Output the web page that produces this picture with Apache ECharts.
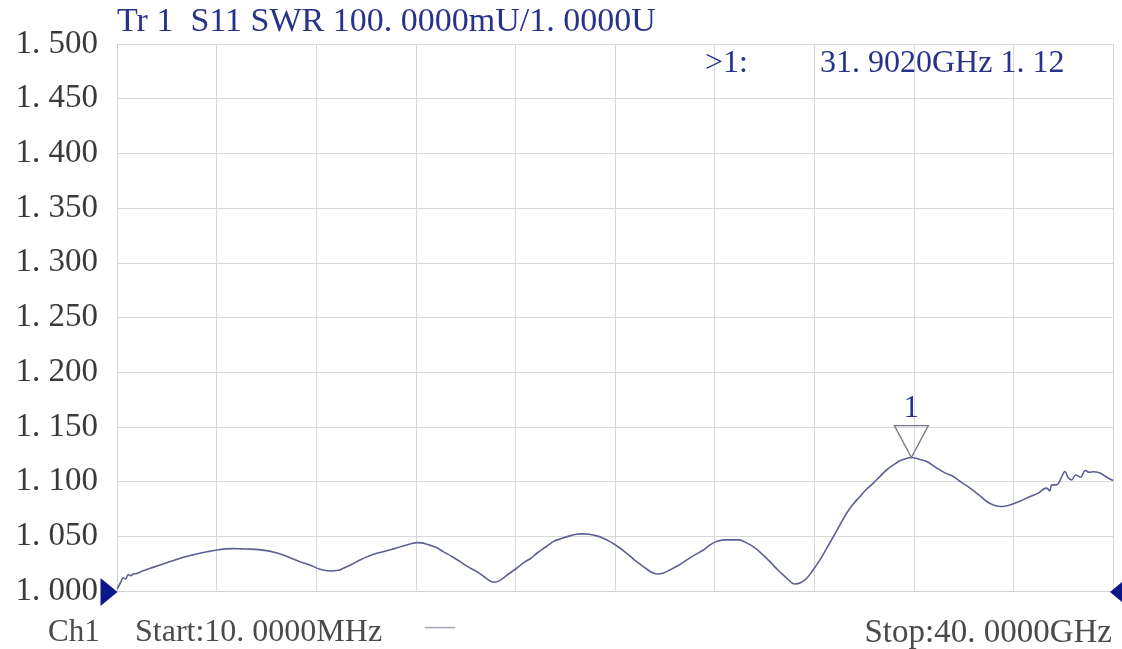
<!DOCTYPE html>
<html>
<head>
<meta charset="utf-8">
<script src="https://cdn.jsdelivr.net/npm/echarts@6/dist/echarts.min.js"></script>
<style>
html,body{margin:0;padding:0;background:#fff;}
#chart{width:1122px;height:649px;}
</style>
</head>
<body>
<div id="chart"></div>
<script>
// ---- data (frequency in GHz, SWR) ----
const freqGHz = [0.01,0.15,0.25,0.35,0.45,0.55,0.65,0.8,1.0,1.33,1.7,2.0,2.35,2.66,3.0,3.33,3.7,4.0,4.35,4.67,5.0,5.34,5.7,6.0,6.35,6.68,7.0,7.35,7.75,8.15,8.55,8.9,9.09,9.4,9.76,10.1,10.43,10.8,11.1,11.45,11.77,12.04,12.25,12.44,12.8,13.1,13.45,13.78,14.1,14.45,14.75,14.98,15.18,15.5,15.75,16.05,16.35,16.6,16.86,17.2,17.52,17.85,18.19,18.45,18.66,18.95,19.27,19.55,19.8,20.15,20.47,20.8,21.14,21.4,21.67,21.95,22.2,22.55,22.88,23.2,23.55,23.8,24.1,24.49,25.0,25.15,25.55,25.9,26.22,26.55,26.9,27.1,27.23,27.45,27.7,27.95,28.23,28.5,28.77,29.05,29.3,29.55,29.84,30.1,30.37,30.65,30.91,31.2,31.45,31.7,31.902,32.2,32.52,32.92,33.25,33.59,33.9,34.26,34.6,34.93,35.2,35.46,35.75,36.0,36.3,36.67,37.0,37.2,37.34,37.45,37.55,37.74,37.9,38.07,38.2,38.34,38.5,38.7,38.88,39.05,39.2,39.48,39.75,40.0];
const swr = [1.002,1.008,1.012,1.011,1.015,1.014,1.0156,1.016,1.018,1.0208,1.0235,1.0259,1.0285,1.0308,1.0328,1.0345,1.0362,1.0375,1.0385,1.0387,1.0385,1.0383,1.0378,1.0369,1.0352,1.033,1.030,1.0268,1.0238,1.0199,1.0183,1.019,1.0208,1.024,1.0284,1.0318,1.0345,1.0365,1.0385,1.041,1.043,1.0442,1.044,1.0427,1.040,1.036,1.0315,1.0268,1.022,1.0177,1.013,1.0092,1.008,1.0116,1.016,1.0208,1.0262,1.0295,1.0345,1.040,1.0451,1.048,1.0504,1.0518,1.0522,1.0518,1.0504,1.048,1.0451,1.040,1.0345,1.028,1.0223,1.018,1.0156,1.0165,1.0192,1.0235,1.0284,1.033,1.0375,1.042,1.0455,1.0467,1.0467,1.0455,1.0406,1.034,1.0268,1.019,1.0116,1.0075,1.0064,1.0075,1.0116,1.019,1.0284,1.039,1.0497,1.061,1.0711,1.079,1.0864,1.093,1.0986,1.105,1.1108,1.1155,1.119,1.1212,1.122,1.1205,1.1184,1.1124,1.108,1.1047,1.0995,1.094,1.088,1.0818,1.0785,1.0772,1.078,1.0797,1.0825,1.0864,1.0895,1.093,1.094,1.0915,1.097,1.097,1.1025,1.1092,1.1035,1.1016,1.106,1.104,1.1102,1.1085,1.109,1.1078,1.104,1.101];
const yTickLabels = ['1. 000','1. 050','1. 100','1. 150','1. 200','1. 250','1. 300','1. 350','1. 400','1. 450','1. 500'];
const markerFreq = [31.902];
const markerSwr = [1.122];
const refLevel = [1.0];

const navy = '#27338a';
const grayText = '#4a4a4a';
const font = 'Liberation Serif';

const chart = echarts.init(document.getElementById('chart'), null, {renderer:'canvas'});
const trace = freqGHz.map((f,i)=>[f, swr[i]]);

chart.setOption({
  backgroundColor:'#ffffff',
  animation:false,
  title:[
    {text:'Tr 1  S11 SWR 100. 0000mU/1. 0000U', left:117, top:5, padding:0,
     textStyle:{fontFamily:font, fontSize:34, fontWeight:'normal', color:navy}},
    {text:'>1:', left:705, top:48, padding:0,
     textStyle:{fontFamily:font, fontSize:32, fontWeight:'normal', color:navy}},
    {text:'31. 9020GHz 1. 12', left:820, top:48, padding:0,
     textStyle:{fontFamily:font, fontSize:32, fontWeight:'normal', color:navy}},
    {text:'Ch1', left:48, top:617, padding:0,
     textStyle:{fontFamily:font, fontSize:31, fontWeight:'normal', color:grayText}},
    {text:'Start:10. 0000MHz', left:135, top:617, padding:0,
     textStyle:{fontFamily:font, fontSize:32, fontWeight:'normal', color:grayText}},
    {text:'—', left:425, top:612, padding:0,
     textStyle:{fontFamily:font, fontSize:30, fontWeight:'normal', color:'#a8a8b8'}},
    {text:'Stop:40. 0000GHz', right:10, top:617, padding:0,
     textStyle:{fontFamily:font, fontSize:33, fontWeight:'normal', color:grayText}}
  ],
  grid:{left:117, right:9, top:44, bottom:58},
  xAxis:{
    type:'value', min:0, max:40, interval:4,
    axisLine:{show:true, lineStyle:{color:'#d2d2d2', width:1}},
    axisTick:{show:false},
    axisLabel:{show:false},
    splitLine:{show:true, lineStyle:{color:'#d8d8d8', width:1}}
  },
  yAxis:{
    type:'value', min:1.0, max:1.5, interval:0.05,
    axisLine:{show:true, lineStyle:{color:'#d2d2d2', width:1}},
    axisTick:{show:false},
    axisLabel:{
      show:true, margin:19, fontFamily:font, fontSize:33, color:'#3a3a3a',
      formatter:(v)=> yTickLabels[Math.round((v-1.0)/0.05)]
    },
    splitLine:{show:true, lineStyle:{color:'#d8d8d8', width:1}}
  },
  series:[
    {
      type:'line', data:trace, showSymbol:false, smooth:0.35,
      lineStyle:{color:'#5c6094', width:1.6},
      z:3
    },
    {
      type:'scatter', data:markerFreq.map((f,i)=>[f, markerSwr[i]]),
      symbol:'triangle', symbolRotate:180, symbolSize:[34,32], symbolOffset:[0,-16],
      itemStyle:{color:'rgba(255,255,255,0)', borderColor:'#787888', borderWidth:1.3, opacity:1},
      label:{show:true, position:'top', distance:1, formatter:'1',
             fontFamily:font, fontSize:31, color:navy},
      z:4
    },
    {
      type:'scatter', data:[[0, refLevel[0]]], clip:false,
      symbol:'triangle', symbolRotate:-90, symbolSize:[28,17], symbolOffset:[-8,1],
      itemStyle:{color:'#0a168a', opacity:1}, z:5
    },
    {
      type:'scatter', data:[[40, refLevel[0]]], clip:false,
      symbol:'triangle', symbolRotate:90, symbolSize:[30,18], symbolOffset:[6,1],
      itemStyle:{color:'#0a168a', opacity:1}, z:5
    }
  ]
});
</script>
</body>
</html>
